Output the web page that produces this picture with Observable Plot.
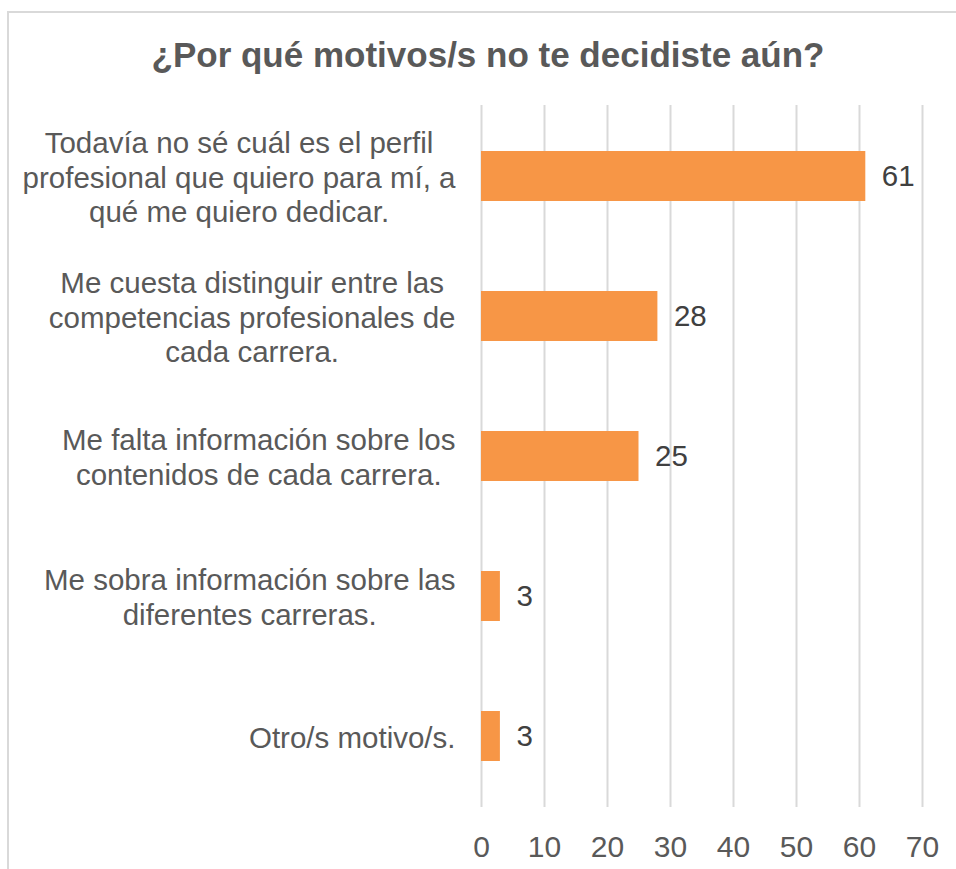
<!DOCTYPE html>
<html>
<head>
<meta charset="utf-8">
<script src="https://cdn.jsdelivr.net/npm/d3@7"></script>
<script src="https://cdn.jsdelivr.net/npm/@observablehq/plot@0.6"></script>
<style>
  html, body { margin: 0; padding: 0; background: #fff; overflow: hidden; }
  #wrap { position: relative; width: 956px; height: 869px; font-family: "Liberation Sans", Arial, sans-serif; }
  #title { box-sizing: border-box; height: 100px; padding-top: 35px; padding-left: 20px; line-height: 40px;
           text-align: center; font-size: 35px; font-weight: bold; color: #595959; }
  #frame { position: absolute; left: 7px; top: 11px; width: 1200px; height: 1200px;
           border-left: 2px solid #d9d9d9; border-top: 2px solid #d9d9d9; pointer-events: none; }
  svg { display: block; }
</style>
</head>
<body>
<div id="wrap">
  <div id="frame"></div>
  <div id="title">¿Por qué motivos/s no te decidiste aún?</div>
  <div id="chart"></div>
</div>
<script>
const titleText = "¿Por qué motivos/s no te decidiste aún?";
const categories = [
  "Todavía no sé cuál es el perfil\nprofesional que quiero para mí, a\nqué me quiero dedicar.",
  "Me cuesta distinguir entre las\ncompetencias profesionales de\ncada carrera.",
  "Me falta información sobre los\ncontenidos de cada carrera.",
  "Me sobra información sobre las\ndiferentes carreras.",
  "Otro/s motivo/s."
];
const values = [61, 28, 25, 3, 3];
const xTicks = [0, 10, 20, 30, 40, 50, 60, 70];

const W = 956, H = 769;
const mL = 481, mR = 34, mT = 5, mB = 62;
const fontFamily = "'Liberation Sans', Arial, sans-serif";
const fs = 29.5;
const xMax = 70;
const pxPerUnit = (W - mL - mR) / xMax;
const labelGap = 26;

// measure label widths to center each multi-line block to the left of the axis
const ctx = document.createElement("canvas").getContext("2d");
ctx.font = `${fs}px ${fontFamily}`;
const data = categories.map((c, i) => {
  const maxW = d3.max(c.split("\n"), l => ctx.measureText(l).width);
  return { cat: c, value: values[i], lx: -(labelGap + maxW / 2) / pxPerUnit };
});

const chart = Plot.plot({
  width: W, height: H,
  marginLeft: mL, marginRight: mR, marginTop: mT, marginBottom: mB,
  style: { fontFamily, background: "transparent" },
  x: { domain: [0, xMax], axis: null },
  y: { domain: categories, paddingInner: 0.644, paddingOuter: 0.322, axis: null },
  marks: [
    Plot.gridX(xTicks, { stroke: "#d9d9d9", strokeOpacity: 1, strokeWidth: 2 }),
    Plot.axisX(xTicks, { tickSize: 0, tickPadding: 28, fontSize: 30, fill: "#595959", label: null }),
    Plot.barX(data, { x: "value", y: "cat", fill: "#F79646" }),
    Plot.text(data, { x: "value", y: "cat", text: d => String(d.value), textAnchor: "start", dx: 16,
                      fontSize: fs, fill: "#404040" }),
    Plot.text(data, { x: "lx", y: "cat", text: "cat", textAnchor: "middle", lineAnchor: "middle",
                      lineHeight: 1.18, fontSize: fs, fill: "#595959", clip: false })
  ]
});
document.getElementById("chart").appendChild(chart);
</script>
</body>
</html>
